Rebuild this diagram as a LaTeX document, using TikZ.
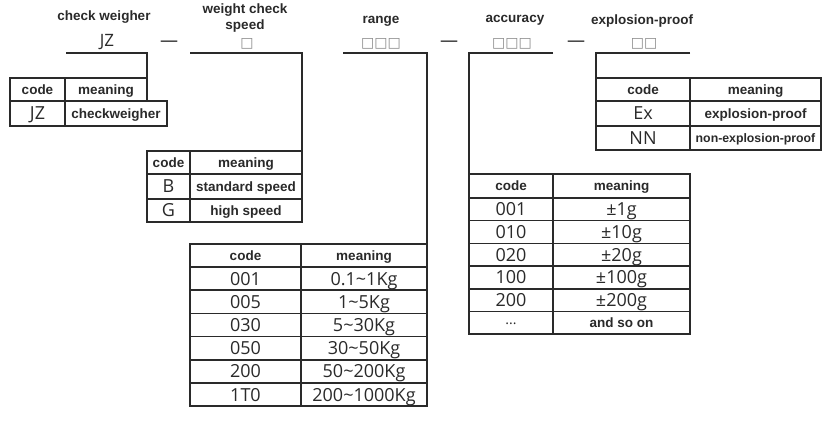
\documentclass[tikz,border=0pt]{standalone}
\usepackage{fontspec}
\setmainfont{Liberation Sans}
\newfontfamily\codefamily{Open Sans}
\newfontfamily\slotfamily{DejaVu Sans}
\usetikzlibrary{positioning}
\definecolor{ink}{HTML}{2A2A2A}
\definecolor{slotgray}{HTML}{8C8C8C}
\newcommand{\lblfont}{\fontsize{13.5}{16}\selectfont\bfseries}
\newcommand{\tinylbl}{\fontsize{12.3}{16}\selectfont\bfseries}
\newcommand{\codefont}{\fontsize{18}{19}\selectfont\codefamily}
\tikzset{
  every node/.style={
    font=\lblfont,
    text=ink
  },
  title/.style={
    align=center,
    inner sep=0pt
  },
  slot/.style={
    font=\fontsize{14}{16}\selectfont\slotfamily,
    text=slotgray,
    inner sep=0pt
  },
  joiner/.style={
    font=\codefont,
    inner sep=0pt
  },
  cell/.style n args={2}{
    shape=rectangle,
    draw=ink,
    line width=1.5pt,
    inner sep=0pt,
    outer sep=0pt,
    minimum width=#1,
    minimum height=#2,
    text centered,
    text height=9.8pt,
    text depth=0pt
  },
  entry/.style={
    font=\codefont,
    text height=13pt
  },
  wire/.style={
    draw=ink,
    line width=1.5pt
  }
}

\begin{document}
\begin{tikzpicture}[x=1pt,y=-1pt]
  \useasboundingbox[fill=white] (0,0) rectangle (836,427);

  % titles and code letters
  \node [title] (ttJZ) at (104,17) {check weigher};
  \node [title] (ttSp) at (245,18.5) {weight check\\speed};
  \node [title] (ttRg) at (381,21) {range};
  \node [title] (ttAc) at (515,20) {accuracy};
  \node [title] (ttEx) at (642,21) {explosion-proof};

  \node [joiner, font=\fontsize{17}{20}\selectfont\codefamily] (cJZ) at (107,42) {JZ};
  \node [slot] (cSp) at (247,44) {□};
  \node [slot] (cRg) at (381,44) {□□□};
  \node [slot] (cAc) at (512,44) {□□□};
  \node [slot] (cEx) at (644,44) {□□};

  \node [joiner] (d1) at (169,44) {—};
  \node [joiner] (d2) at (449,44) {—};
  \node [joiner] (d3) at (576,44) {—};

  % check weigher table
  \node [cell={55pt}{23pt}, anchor=north west] (jz0c) at (10,78) {code};
  \node [cell={82pt}{23pt}, right=0pt of jz0c] (jz0m) {meaning};
  \node [cell={55pt}{25pt}, entry, below=0pt of jz0c] (jz1c) {JZ};
  \node [cell={102pt}{25pt}, anchor=north west] (jz1m) at (jz1c.north east) {checkweigher};

  % speed table
  \node [cell={43pt}{23pt}, anchor=north west] (sp0c) at (147,151) {code};
  \node [cell={112pt}{23pt}, right=0pt of sp0c] (sp0m) {meaning};
  \node [cell={43pt}{25pt}, entry, below=0pt of sp0c] (sp1c) {B};
  \node [cell={112pt}{25pt}, right=0pt of sp1c] (sp1m) {standard speed};
  \node [cell={43pt}{23pt}, entry, below=0pt of sp1c] (sp2c) {G};
  \node [cell={112pt}{23pt}, right=0pt of sp2c] (sp2m) {high speed};

  % range table
  \node [cell={111pt}{23pt}, anchor=north west] (rg0c) at (190,244) {code};
  \node [cell={126pt}{23pt}, right=0pt of rg0c] (rg0m) {meaning};
  \foreach \c/\m [count=\i, remember=\i as \j (initially 0)] in
    {001/0.1\textasciitilde 1Kg, 005/1\textasciitilde 5Kg, 030/5\textasciitilde 30Kg,
     050/30\textasciitilde 50Kg, 200/50\textasciitilde 200Kg, 1T0/200\textasciitilde 1000Kg} {
    \node [cell={111pt}{23.2pt}, entry, below=0pt of rg\j c] (rg\i c) {\c};
    \node [cell={126pt}{23.2pt}, entry, right=0pt of rg\i c] (rg\i m) {\m};
  }

  % accuracy table
  \node [cell={84pt}{24pt}, anchor=north west] (ac0c) at (469,174) {code};
  \node [cell={137pt}{24pt}, right=0pt of ac0c] (ac0m) {meaning};
  \foreach \c/\m [count=\i, remember=\i as \j (initially 0)] in
    {001/±1g, 010/±10g, 020/±20g, 100/±100g, 200/±200g} {
    \node [cell={84pt}{22.7pt}, entry, below=0pt of ac\j c] (ac\i c) {\c};
    \node [cell={137pt}{22.7pt}, entry, right=0pt of ac\i c] (ac\i m) {\m};
  }
  \node [cell={84pt}{22.7pt}, font=\fontsize{14}{16}\selectfont\codefamily, text height=3pt, below=0pt of ac5c] (ac6c) {...};
  \node [cell={137pt}{22.7pt}, right=0pt of ac6c] (ac6m) {and so on};

  % explosion-proof table
  \node [cell={94pt}{23pt}, anchor=north west] (ex0c) at (596,78) {code};
  \node [cell={131pt}{23pt}, right=0pt of ex0c] (ex0m) {meaning};
  \node [cell={94pt}{25pt}, entry, below=0pt of ex0c] (ex1c) {Ex};
  \node [cell={131pt}{25pt}, right=0pt of ex1c] (ex1m) {explosion-proof};
  \node [cell={94pt}{24pt}, entry, below=0pt of ex1c] (ex2c) {NN};
  \node [cell={131pt}{24pt}, font=\tinylbl, right=0pt of ex2c] (ex2m) {non-explosion-proof};

  % leader lines
  \coordinate (lJZ) at (66,53);
  \coordinate (lSp) at (190,53);
  \coordinate (lRg) at (343,53);
  \coordinate (lAc) at (553,53);
  \coordinate (lEx) at (690,53);
  \draw [wire] (lJZ) -| (jz0m.north east);
  \draw [wire] (lSp) -| (sp0m.north east);
  \draw [wire] (lRg) -| (rg0m.north east);
  \draw [wire] (lAc) -| (ac0c.north west);
  \draw [wire] (lEx) -| (ex0c.north west);
\end{tikzpicture}
\end{document}
